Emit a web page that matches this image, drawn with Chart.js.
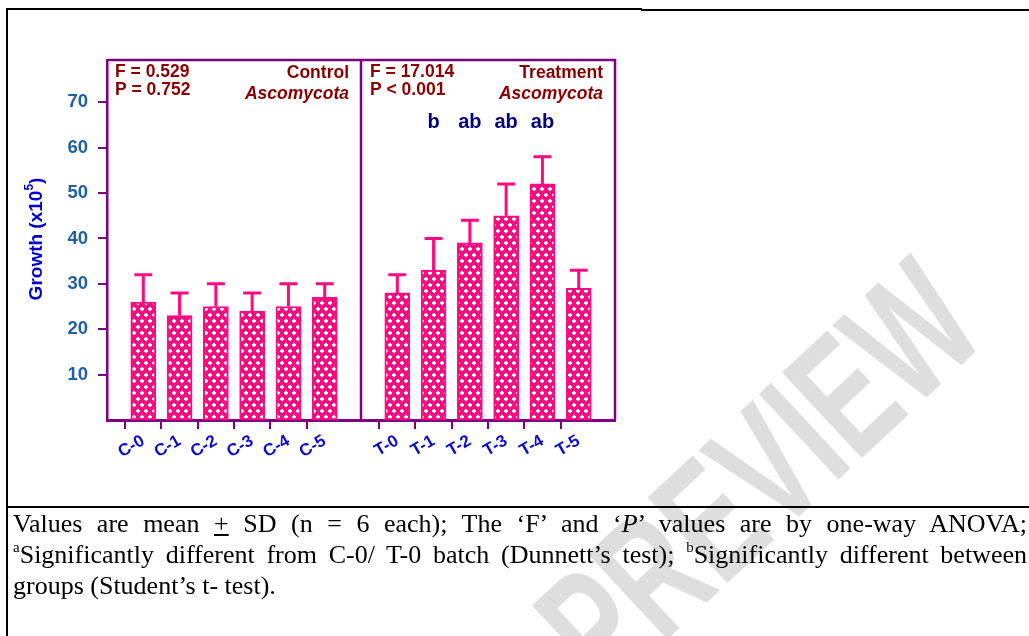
<!DOCTYPE html>
<html>
<head>
<meta charset="utf-8">
<script src="https://cdn.jsdelivr.net/npm/chart.js@4.4.1/dist/chart.umd.min.js"></script>
<style>
  body { margin: 0; background: #fff; width: 1029px; height: 636px; overflow: hidden; position: relative; }
  #wm { position: absolute; left: 758px; top: 474px; font: bold 170px "Liberation Sans", Arial, sans-serif; color: #dedede;
        transform: translate(-50%, -50%) rotate(-43deg) scaleX(0.67); white-space: nowrap; z-index: 0; line-height: 1; }
  #chartWrap { position: absolute; left: 0; top: 0; z-index: 1; }
  .line { position: absolute; background: #000; z-index: 2; }
  #caption { position: absolute; left: 13px; top: 508px; width: 1014px; z-index: 2;
             font: 26px "Liberation Serif", "Times New Roman", serif; color: #000; }
  #caption div { height: 31px; line-height: 31px; white-space: nowrap; }
  #caption .j { text-align: justify; text-align-last: justify; white-space: normal; }
  sup { font-size: 15px; vertical-align: 11px; line-height: 0; }
</style>
</head>
<body>
<div id="wm">PREVIEW</div>
<div id="chartWrap"><canvas id="c" width="1029" height="500"></canvas></div>
<div class="line" style="left:6px;top:8px;width:636px;height:2px"></div>
<div class="line" style="left:641px;top:9px;width:388px;height:2px"></div>
<div class="line" style="left:6px;top:8px;width:2px;height:628px"></div>
<div class="line" style="left:6px;top:506px;width:1023px;height:2px"></div>
<div id="caption">
  <div class="j">Values are mean <u>+</u> SD (n = 6 each); The ‘F’ and ‘<i>P</i>’ values are by one-way ANOVA;</div>
  <div class="j"><sup>a</sup>Significantly different from C-0/ T-0 batch (Dunnett’s test); <sup>b</sup>Significantly different between</div>
  <div>groups (Student’s t- test).</div>
</div>
<script>
const ctrlLabels = ["C-0", "C-1", "C-2", "C-3", "C-4", "C-5"];
const trtLabels = ["T-0", "T-1", "T-2", "T-3", "T-4", "T-5"];
const ctrlMean = [26, 23, 25, 24, 25, 27];
const ctrlSD = [6, 5, 5, 4, 5, 3];
const trtMean = [28, 33, 39, 45, 52, 29];
const trtSD = [4, 7, 5, 7, 6, 4];
const trtLetters = ["", "b", "ab", "ab", "ab", ""];
const yTicks = [10, 20, 30, 40, 50, 60, 70];

const purple = "#800080";
const pink = "#ff0a80";
const darkRed = "#8b0000";

// gap slots between groups and at the ends
const xLabels = ["", ...ctrlLabels, "", ...trtLabels, ""];
const means = [null, ...ctrlMean, null, ...trtMean, null];
const sds = [null, ...ctrlSD, null, ...trtSD, null];
const letters = ["", ...ctrlLabels.map(() => ""), "", ...trtLetters, ""];

// dotted pink fill
function makePattern() {
    const p = document.createElement("canvas");
    p.width = 8; p.height = 12;
    const g = p.getContext("2d");
    g.fillStyle = pink;
    g.fillRect(0, 0, 8, 12);
    g.fillStyle = "#fff";
    [[2, 3], [6, 9]].forEach(([x, y]) => {
        g.fillRect(x - 2, y - 1, 4, 2);
        g.fillRect(x - 1, y - 2, 2, 4);
    });
    return document.getElementById("c").getContext("2d").createPattern(p, "repeat");
}

const font = "'Liberation Sans', Arial, sans-serif";

const extras = {
    id: "extras",
    afterDatasetsDraw(chart) {
        const ctx = chart.ctx, y = chart.scales.y, meta = chart.getDatasetMeta(0);
        ctx.save();
        ctx.strokeStyle = pink;
        ctx.lineWidth = 3;
        means.forEach((m, i) => {
            if (m == null) return;
            const x = meta.data[i].x;
            const yb = y.getPixelForValue(m), yt = y.getPixelForValue(m + sds[i]);
            ctx.beginPath();
            ctx.moveTo(x, yb); ctx.lineTo(x, yt);
            ctx.moveTo(x - 9, yt); ctx.lineTo(x + 9, yt);
            ctx.stroke();
        });
        ctx.restore();
    },
    afterDraw(chart) {
        const ctx = chart.ctx, a = chart.chartArea, xs = chart.scales.x;
        ctx.save();
        // frame and divider
        ctx.strokeStyle = purple;
        ctx.lineWidth = 2.5;
        const xd = xs.getPixelForValue(7);
        ctx.beginPath();
        ctx.moveTo(a.left, a.top); ctx.lineTo(a.right, a.top); ctx.lineTo(a.right, a.bottom);
        ctx.moveTo(xd, a.top); ctx.lineTo(xd, a.bottom);
        ctx.stroke();

        // stats text
        ctx.fillStyle = darkRed;
        ctx.textBaseline = "middle";
        ctx.font = "bold 17.5px " + font;
        ctx.textAlign = "left";
        ctx.fillText("F = 0.529", a.left + 8, a.top + 12);
        ctx.fillText("P = 0.752", a.left + 8, a.top + 30);
        ctx.fillText("F = 17.014", xd + 9, a.top + 12);
        ctx.fillText("P < 0.001", xd + 9, a.top + 30);
        ctx.textAlign = "right";
        ctx.fillText("Control", xd - 12, a.top + 13);
        ctx.fillText("Treatment", a.right - 12, a.top + 13);
        ctx.font = "italic bold 17.5px " + font;
        ctx.fillText("Ascomycota", xd - 12, a.top + 34);
        ctx.fillText("Ascomycota", a.right - 12, a.top + 34);

        // significance letters
        ctx.fillStyle = "#000080";
        ctx.font = "bold 20px " + font;
        ctx.textAlign = "center";
        letters.forEach((t, i) => {
            if (t) ctx.fillText(t, xs.getPixelForValue(i), a.top + 62);
        });

        // y title with superscript
        ctx.translate(42, 239);
        ctx.rotate(-Math.PI / 2);
        ctx.fillStyle = "#0000cc";
        ctx.textBaseline = "alphabetic";
        ctx.font = "bold 19px " + font;
        const main = "Growth (x10", w1 = ctx.measureText(main).width;
        ctx.font = "bold 12px " + font;
        const w2 = ctx.measureText("5").width;
        ctx.font = "bold 19px " + font;
        const w3 = ctx.measureText(")").width;
        const sx = -(w1 + w2 + w3) / 2;
        ctx.textAlign = "left";
        ctx.fillText(main, sx, 0);
        ctx.font = "bold 12px " + font;
        ctx.fillText("5", sx + w1, -9);
        ctx.font = "bold 19px " + font;
        ctx.fillText(")", sx + w1 + w2, 0);
        ctx.restore();
    }
};

new Chart(document.getElementById("c"), {
    type: "bar",
    data: {
        labels: xLabels,
        datasets: [{
            data: means,
            backgroundColor: makePattern(),
            borderColor: pink,
            borderWidth: 2,
            borderSkipped: false,
            barThickness: 25
        }]
    },
    options: {
        responsive: false,
        animation: false,
        devicePixelRatio: 1,
        layout: { padding: { left: 0, top: 60, right: 414, bottom: 0 } },
        plugins: { legend: { display: false }, tooltip: { enabled: false } },
        scales: {
            x: {
                type: "category",
                offset: false,
                afterFit: s => { s.height = 80; },
                border: { color: purple, width: 3 },
                grid: {
                    drawOnChartArea: false,
                    tickLength: 9,
                    lineWidth: 2,
                    color: c => xLabels[c.index] ? purple : "transparent"
                },
                ticks: {
                    autoSkip: false,
                    minRotation: 30,
                    maxRotation: 30,
                    padding: 2,
                    color: "#0a0ad0",
                    font: { family: font, size: 17, weight: "bold" }
                }
            },
            y: {
                min: 0,
                max: 79.3,
                afterFit: s => { s.width = 107; },
                afterBuildTicks: s => { s.ticks = yTicks.map(v => ({ value: v })); },
                border: { color: purple, width: 2.5 },
                grid: { drawOnChartArea: false, tickLength: 9, lineWidth: 2, color: purple },
                ticks: {
                    padding: 10,
                    color: "#1f5fa5",
                    font: { family: font, size: 18.5, weight: "bold" }
                }
            }
        }
    },
    plugins: [extras]
});
</script>
</body>
</html>
